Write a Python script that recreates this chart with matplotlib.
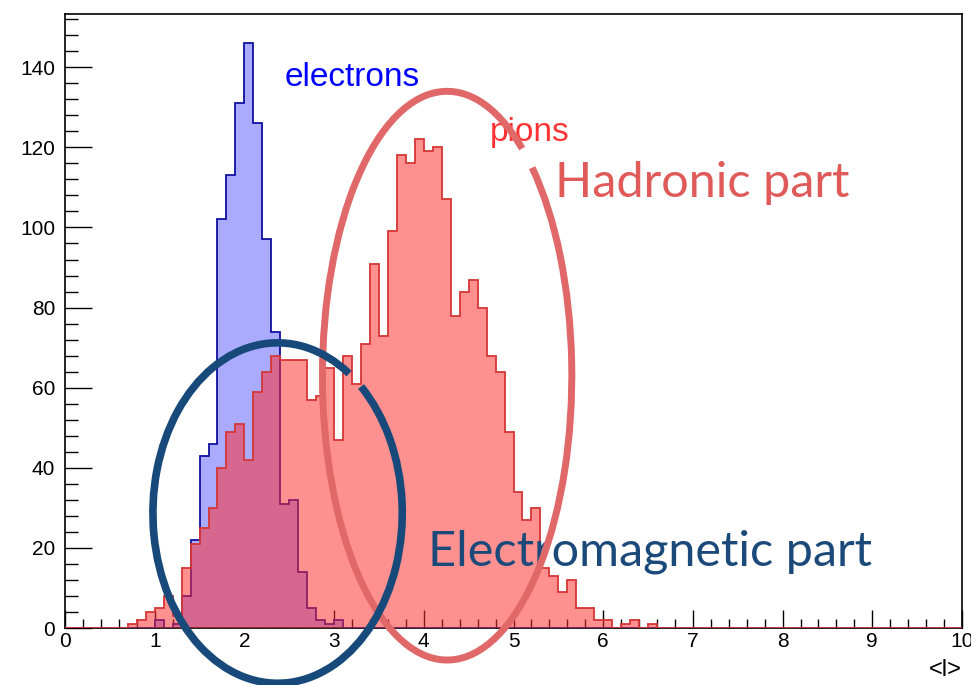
import numpy as np
import matplotlib
matplotlib.use("Agg")
import matplotlib.pyplot as plt
from matplotlib.patches import Arc
from matplotlib.ticker import MultipleLocator

# ---------------- data ----------------
n_bins = 100
x_min, x_max = 0.0, 10.0
y_max = 153.3

# electrons: counts per 0.1-wide bin, starting at <l> = 1.0
electron_first_bin = 1.0
electron_counts = [2, 0, 1, 8, 22, 43, 46, 102, 113, 131, 146, 126, 97, 74,
                   31, 32, 14, 5, 2, 1, 2]

# pions: counts per 0.1-wide bin, starting at <l> = 0.7
pion_first_bin = 0.7
pion_counts = [1, 2, 4, 5, 8, 3, 15, 21, 25, 30, 40, 49, 51, 42, 59, 64, 68,
               67, 67, 67, 57, 58, 65, 47, 68, 61, 71, 91, 73, 99, 118, 116,
               122, 119, 120, 107, 78, 84, 87, 80, 68, 64, 49, 34, 27, 30, 15,
               13, 9, 12, 5, 5, 2, 2, 0, 1, 2, 0, 1]

x_ticks = [0, 1, 2, 3, 4, 5, 6, 7, 8, 9, 10]
y_ticks = [0, 20, 40, 60, 80, 100, 120, 140]
x_label = "<l>"

# ---------------- build full histograms ----------------
edges = np.linspace(x_min, x_max, n_bins + 1)
width = (x_max - x_min) / n_bins

def full_hist(first, counts):
    h = np.zeros(n_bins)
    i0 = int(round((first - x_min) / width))
    h[i0:i0 + len(counts)] = counts
    return h

h_el = full_hist(electron_first_bin, electron_counts)
h_pi = full_hist(pion_first_bin, pion_counts)

# ---------------- figure ----------------
W, H = 971, 685
fig = plt.figure(figsize=(W / 100, H / 100), dpi=100)
ax = fig.add_axes([65 / W, 1 - 628 / H, (962 - 65) / W, (628 - 14) / H])

ax.set_xlim(x_min, x_max)
ax.set_ylim(0, y_max)

# electrons
ax.stairs(h_el, edges, fill=True, color="#aaaaff", lw=0, zorder=2)
ax.stairs(h_el, edges, color="#1010a0", lw=1.3, zorder=3)
# pions
ax.stairs(h_pi, edges, fill=True, color=(1.0, 0.18, 0.18, 0.53), lw=0, zorder=4)
ax.stairs(h_pi, edges, color="#d63636", lw=1.3, zorder=5)

# axes style (ROOT-like)
for s in ax.spines.values():
    s.set_linewidth(1.2)
    s.set_color("black")
ax.set_xticks(x_ticks)
ax.set_yticks(y_ticks)
ax.xaxis.set_minor_locator(MultipleLocator(0.2))
ax.yaxis.set_minor_locator(MultipleLocator(4))
ax.tick_params(axis="x", which="major", direction="in", length=13, width=1.0,
               pad=3, labelsize=15, top=False)
ax.tick_params(axis="x", which="minor", direction="in", length=6.5, width=1.0,
               top=False)
ax.tick_params(axis="y", which="major", direction="in", length=19.5, width=1.0,
               pad=7, labelsize=15, right=False)
ax.tick_params(axis="y", which="minor", direction="in", length=9.5, width=1.0,
               right=False)
for lab in ax.get_xticklabels() + ax.get_yticklabels():
    lab.set_fontfamily("Liberation Sans")
ax.set_xlabel(x_label, loc="right", fontsize=17, family="Liberation Sans",
              labelpad=6)

# ---------------- annotations ----------------
ax.text(2.45, 135.4, "electrons", color="#0000ff", fontsize=24,
        family="Liberation Sans", va="baseline", ha="left", zorder=6)
ax.text(4.74, 121.5, "pions", color="#ff3333", fontsize=24,
        family="Liberation Sans", va="baseline", ha="left", zorder=6)
ax.text(5.46, 107.6, "Hadronic part", color="#e05a5a", fontsize=35,
        family="Lato", va="baseline", ha="left", zorder=6)
ax.text(4.05, 15.7, "Electromagnetic part", color="#1b4a7a", fontsize=35,
        family="Lato", va="baseline", ha="left", zorder=6)

# hand-drawn style ellipses (in data coordinates), with a small gap top-right.
# gap given as parametric angles; Arc wants polar angles in data space.
def gapped_ellipse(center, w, h, gap_from, gap_to, **kw):
    def polar(t):
        t = np.deg2rad(t)
        return np.rad2deg(np.arctan2(h * np.sin(t), w * np.cos(t)))
    ax.add_patch(Arc(center, w, h, theta1=polar(gap_to),
                     theta2=polar(gap_from) + 360, **kw))

gapped_ellipse((4.26, 63.0), 2 * 1.39, 2 * 71.0, 47, 53,
               color="#e06868", lw=5.0, zorder=7, clip_on=False)
gapped_ellipse((2.37, 28.7), 2 * 1.39, 2 * 42.5, 48, 55,
               color="#174a7a", lw=5.5, zorder=8, clip_on=False)

fig.savefig("out.png", dpi=100)
